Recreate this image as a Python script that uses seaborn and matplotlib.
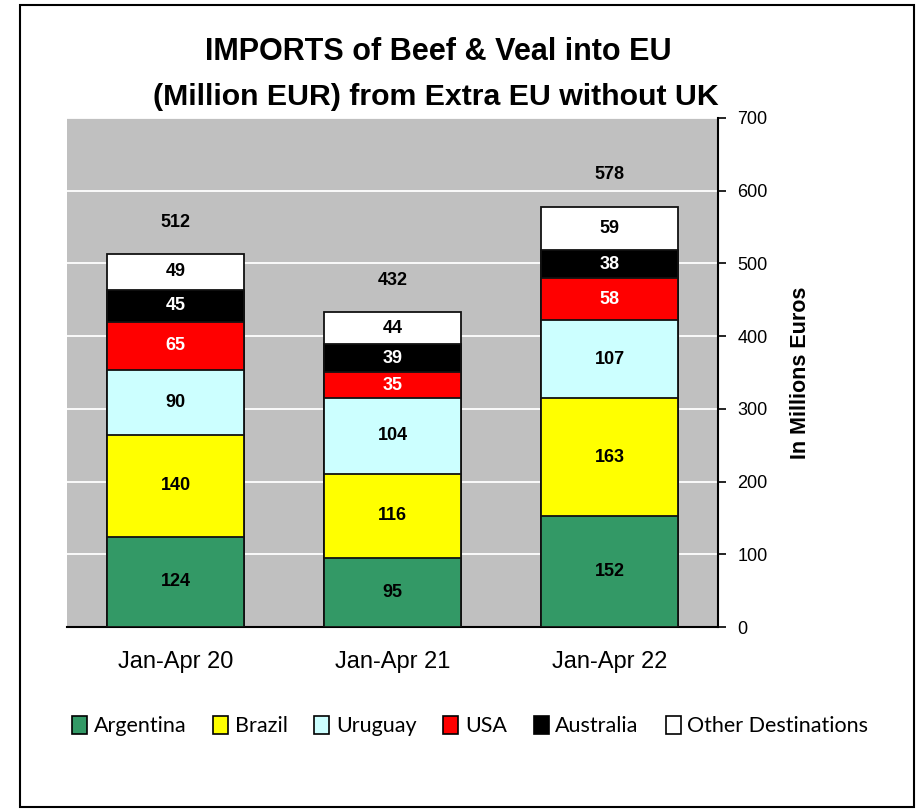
import matplotlib
matplotlib.use("Agg")
import matplotlib.pyplot as plt
import seaborn as sns
import pandas as pd
import numpy as np
from matplotlib.patches import Rectangle, Patch

periods = ["Jan-Apr 20", "Jan-Apr 21", "Jan-Apr 22"]
series = ["Argentina", "Brazil", "Uruguay", "USA", "Australia", "Other Destinations"]
argentina = [124, 95, 152]
brazil = [140, 116, 163]
uruguay = [90, 104, 107]
usa = [65, 35, 58]
australia = [45, 39, 38]
other = [49, 44, 59]
totals = [512, 432, 578]
colors = ["#339966", "#FFFF00", "#CCFFFF", "#FF0000", "#000000", "#FFFFFF"]
label_colors = ["black", "black", "black", "white", "white", "black"]

values = [argentina, brazil, uruguay, usa, australia, other]

sns.set_style("white")
plt.rcParams["font.family"] = ["Liberation Sans", "DejaVu Sans"]
for k in ["text.color", "axes.labelcolor", "xtick.color", "ytick.color"]:
    plt.rcParams[k] = "black"

fig = plt.figure(figsize=(9.16, 8.10), dpi=100)
W, H = 916, 810
ax = fig.add_axes([67 / W, 1 - 627 / H, (718 - 67) / W, (627 - 118) / H])
ax.set_facecolor("#C0C0C0")

df = pd.DataFrame({"period": np.repeat(periods, len(series)),
                   "series": series * len(periods),
                   "value": [values[s][p] for p in range(len(periods)) for s in range(len(series))]})
df["cum"] = df.groupby("period", sort=False)["value"].cumsum()
df["bottom"] = df["cum"] - df["value"]

# draw cumulative bars from top series down (overlay stacking)
for i in range(len(series) - 1, -1, -1):
    sub = df[df["series"] == series[i]]
    sns.barplot(data=sub, x="period", y="cum", color=colors[i], saturation=1,
                width=0.63, edgecolor="#111111", linewidth=1.3, ax=ax,
                order=periods, errorbar=None, zorder=3)

# segment labels
for _, r in df.iterrows():
    i = series.index(r["series"])
    p = periods.index(r["period"])
    ax.text(p, r["bottom"] + r["value"] / 2, f"{int(r['value'])}", ha="center", va="center",
            fontsize=13, fontweight="bold", color=label_colors[i], zorder=5)

for p, t in enumerate(totals):
    ax.text(p, t + 44, f"{t}", ha="center", va="center", fontsize=13,
            fontweight="bold", color="black", zorder=5)

ax.set_xlim(-0.5, 2.5)
ax.set_ylim(0, 700)
ax.set_yticks(range(0, 701, 100))
ax.yaxis.grid(True, color="white", linewidth=1.3)
ax.xaxis.grid(False)
ax.set_axisbelow(True)

ax.yaxis.tick_right()
ax.yaxis.set_label_position("right")
ax.tick_params(axis="y", direction="out", length=6, width=1.2, labelsize=13, pad=8)
ax.set_ylabel("In Millions Euros", fontsize=15.5, fontweight="bold", labelpad=16)

ax.set_xlabel("")
ax.set_xticks(range(3))
ax.set_xticklabels(periods, fontsize=17)
ax.tick_params(axis="x", length=0, pad=17)
ax.set_xticks([-0.5, 0.5, 1.5, 2.5], minor=True)
ax.tick_params(axis="x", which="minor", direction="out", length=8, width=1.2)

for s in ["left", "top"]:
    ax.spines[s].set_visible(False)
ax.spines["bottom"].set_color("black")
ax.spines["bottom"].set_linewidth(1.5)
ax.spines["right"].set_color("black")
ax.spines["right"].set_linewidth(1.5)

fig.text(438 / W, 1 - 52 / H, "IMPORTS of Beef & Veal into EU", ha="center", va="center",
         fontsize=22, fontweight="bold")
fig.text(436 / W, 1 - 97 / H, "(Million EUR) from Extra EU without UK", ha="center", va="center",
         fontsize=21.8, fontweight="bold")

handles = [Patch(facecolor=c, edgecolor="black", linewidth=1.2) for c in colors]
fig.legend(handles, series, loc="center", bbox_to_anchor=(470 / W, 1 - 726 / H), ncol=6,
           frameon=False, prop={"family": ["Lato", "Liberation Sans"], "size": 15.5},
           handlelength=0.7, handleheight=0.95, handletextpad=0.3, columnspacing=1.25)

# outer frame
fig.add_artist(Rectangle((20 / W, 1 - 807 / H), (914 - 20) / W, (807 - 5) / H,
                         transform=fig.transFigure, fill=False, edgecolor="black", linewidth=1.5))

fig.savefig("out.png", dpi=100)
